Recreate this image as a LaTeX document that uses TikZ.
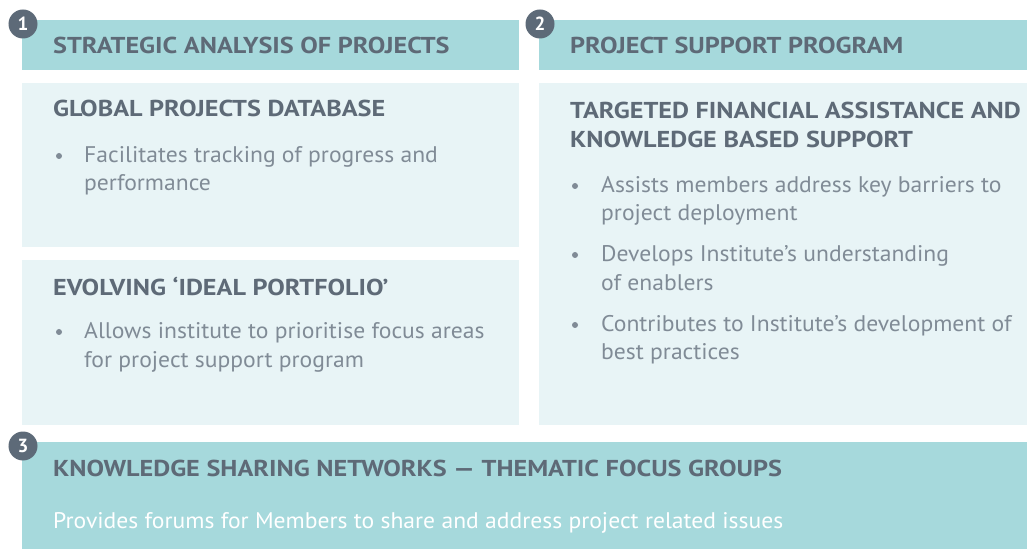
\documentclass[tikz,border=0pt]{standalone}
\usepackage{fontspec}
\setmainfont{PT Sans}
\newfontfamily\titfont[FakeStretch=1.14]{PT Sans}
\newfontfamily\txtfont[FakeStretch=1.045]{PT Sans}
\usepackage{xcolor}
\usepackage{tikz}

\definecolor{barra}{HTML}{A6D9DC}
\definecolor{caja}{HTML}{E8F4F6}
\definecolor{titulo}{HTML}{5E6A77}
\definecolor{cuerpo}{HTML}{808B96}
\definecolor{numero}{HTML}{5D6A78}

\begin{document}
\begin{tikzpicture}[x=1bp, y=-1bp,
    every node/.style={inner sep=0pt, anchor=base west},
    tit/.style={font=\titfont\bfseries\fontsize{23bp}{29bp}\selectfont, text=titulo},
    txt/.style={font=\txtfont\fontsize{22.6bp}{29bp}\selectfont, text=cuerpo},
    num/.style={circle, fill=numero, minimum size=29bp, anchor=center,
        text=white, font=\bfseries\fontsize{19bp}{19bp}\selectfont}]

\useasboundingbox (0,0) rectangle (1027,549);

% Cajas claras
\fill[caja] (22,83) rectangle (519,247);
\fill[caja] (22,260) rectangle (519,425);
\fill[caja] (539,83) rectangle (1027,425);

% Barras de titulo
\fill[barra] (22,20) rectangle (519,70);
\fill[barra] (539,20) rectangle (1027,70);
\fill[barra] (22,442) rectangle (1027,549);

% Numeros
\foreach \x/\y/\k in {23/24/1, 540/24/2, 23/446/3} {
    \node[num] (n\k) at (\x,\y) {\k};
}

% Titulos
\foreach \x/\y/\t in {
    53/54/STRATEGIC ANALYSIS OF PROJECTS,
    570/54/PROJECT SUPPORT PROGRAM,
    53/117/GLOBAL PROJECTS DATABASE,
    53/296/EVOLVING ‘IDEAL PORTFOLIO’,
    570/119/TARGETED FINANCIAL ASSISTANCE AND,
    570/148/KNOWLEDGE BASED SUPPORT,
    53/476/KNOWLEDGE SHARING NETWORKS — THEMATIC FOCUS GROUPS} {
    \node[tit] (h\y) at (\x,\y) {\t};
}

% Vinetas
\foreach \x/\y in {59/163, 59/339, 575/193, 575/262, 575/332} {
    \fill[cuerpo] (\x,\y-7) circle (3bp);
}

% Texto de las vinetas
\foreach \x/\y/\t in {
    84/163/Facilitates tracking of progress and,
    84/191/performance,
    84/339/Allows institute to prioritise focus areas,
    84/368/for project support program,
    601/193/Assists members address key barriers to,
    601/221/project deployment,
    601/262/Develops Institute’s understanding,
    601/291/of enablers,
    601/332/Contributes to Institute’s development of,
    601/360/best practices} {
    \node[txt] (b\y) at (\x,\y) {\t};
}

\node[txt, text=white] (pie) at (53,528)
    {Provides forums for Members to share and address project related issues};

\end{tikzpicture}
\end{document}
